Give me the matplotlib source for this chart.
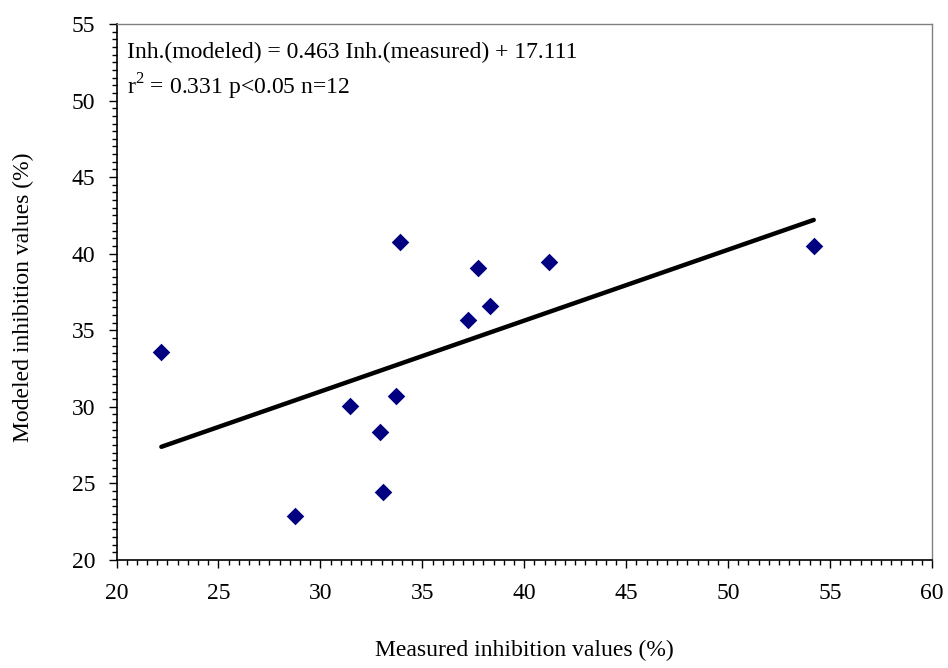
import matplotlib
matplotlib.use("Agg")
import matplotlib.pyplot as plt
import numpy as np
from matplotlib.ticker import MultipleLocator

# Measured vs. modeled inhibition values (%)
measured = [22.2, 28.75, 31.45, 32.93, 33.07, 33.71, 33.9, 37.24, 37.73, 38.32, 41.2, 54.2]
modeled = [33.55, 22.86, 30.05, 28.35, 24.43, 30.7, 40.76, 35.67, 39.06, 36.58, 39.45, 40.5]

slope = 0.463
intercept = 17.111
eq_text = "Inh.(modeled) = 0.463 Inh.(measured) + 17.111"
stat_text = r"r$^{2}$ = 0.331 p<0.05 n=12"

x_ticks = [20, 25, 30, 35, 40, 45, 50, 55, 60]
y_ticks = [20, 25, 30, 35, 40, 45, 50, 55]

plt.rcParams['font.family'] = ['Liberation Serif', 'DejaVu Serif']
plt.rcParams['mathtext.fontset'] = 'custom'
plt.rcParams['mathtext.rm'] = 'Liberation Serif'

fig = plt.figure(figsize=(9.48, 6.68), dpi=100)
ax = fig.add_axes([0.1229, 0.1617, 0.8602, 0.8024])

ax.scatter(measured, modeled, marker='D', s=80, color='#000080', zorder=3,
           linewidths=0)

xs = np.array([min(measured), max(measured)])
ax.plot(xs, slope * xs + intercept, color='black', lw=3.2, solid_capstyle='round',
        zorder=2)

ax.set_xlim(20, 60)
ax.set_ylim(20, 55)
ax.set_xticks(x_ticks)
ax.set_yticks(y_ticks)
ax.xaxis.set_minor_locator(MultipleLocator(0.5))
ax.yaxis.set_minor_locator(MultipleLocator(0.5))

ax.tick_params(axis='both', which='major', direction='out', length=5.8, width=1,
               labelsize=17, color='black')
ax.tick_params(axis='both', which='minor', direction='out', length=3.6, width=1,
               color='black')
ax.tick_params(axis='x', which='major', pad=11)
ax.tick_params(axis='y', which='major', pad=9.5)
ax.tick_params(top=False, right=False, which='both')

for side in ['left', 'bottom']:
    ax.spines[side].set_color('black')
    ax.spines[side].set_linewidth(1.2)
for side in ['top', 'right']:
    ax.spines[side].set_color('#808080')
    ax.spines[side].set_linewidth(1.0)

ax.set_xlabel("Measured inhibition values (%)", fontsize=17)
ax.set_ylabel("Modeled inhibition values (%)", fontsize=17)
ax.xaxis.set_label_coords(0.5, -0.149)
ax.yaxis.set_label_coords(-0.1147, 0.49)
ax.yaxis.label.set_verticalalignment('center')

ax.text(0.013, 0.9366, eq_text, transform=ax.transAxes, fontsize=17,
        va='baseline', ha='left')
ax.text(0.013, 0.869, stat_text, transform=ax.transAxes, fontsize=17,
        va='baseline', ha='left')

fig.savefig("out.png", dpi=100)
